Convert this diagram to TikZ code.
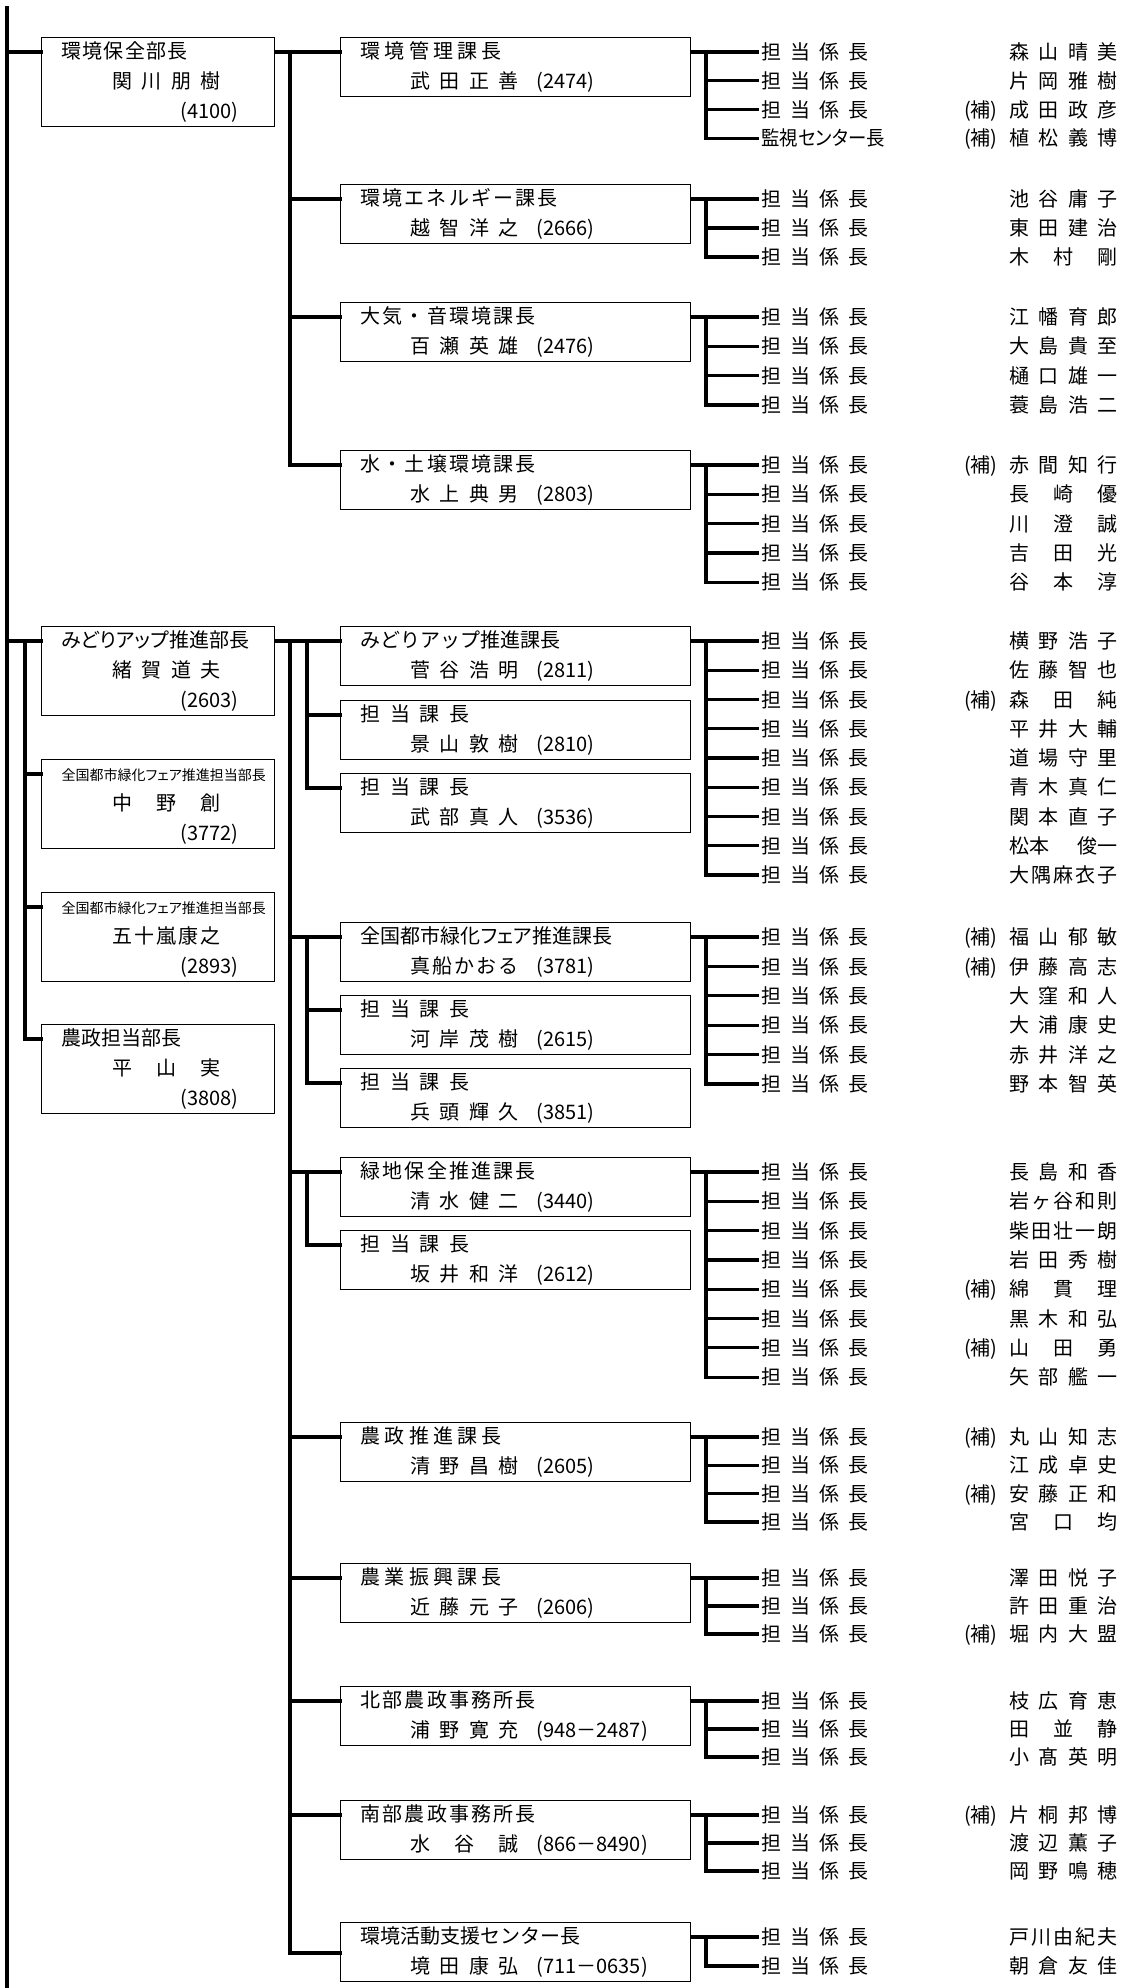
\documentclass[tikz,border=0pt]{standalone}
\usepackage{fontspec}
\setmainfont{Noto Sans CJK JP}
\usetikzlibrary{calc}

\makeatletter
\def\spread#1#2{\makebox[#1][s]{\expandafter\spread@i#2\relax}}
\def\spread@i#1{#1\@ifnextchar\relax{\@gobble}{\hfill\spread@i}}
\makeatother
\newcommand{\kakari}{\spread{53.5pt}{担当係長}}
\newcommand{\palt}[1]{{\addfontfeatures{RawFeature=+palt}#1}}
\newcommand{\hojo}{\ifnum\flag=1 (補)\hspace{6pt}\fi}

\tikzset{
  conn/.style={line width=1.6pt, line cap=rect},
  divbox/.style={draw, line width=0.6pt, anchor=north west, minimum width=116.5pt, minimum height=44.5pt,
    text width=96.5pt, inner xsep=10pt, inner ysep=0pt, align=left, font=\fontsize{10pt}{15pt}\selectfont},
  secbox/.style={divbox, minimum width=175pt, minimum height=29.5pt, text width=155pt},
  job/.style={anchor=west, inner xsep=2pt, inner ysep=0pt, text height=8.8pt, text depth=1.2pt, font=\fontsize{10pt}{12pt}\selectfont},
  who/.style={anchor=east, inner sep=0pt, text height=8.8pt, text depth=1.2pt, font=\fontsize{10pt}{12pt}\selectfont}
}

\begin{document}
\begin{tikzpicture}[x=0.5pt,y=-0.5pt]
  \useasboundingbox (0,0) rectangle (1131,1988);
  % ---- bar positions ----
  \coordinate (spine) at (7,8);
  \coordinate (foot) at (7,1988);
  \coordinate (sub) at (25,0);
  \coordinate (brA) at (290,0);
  \coordinate (brB) at (307,0);
  \coordinate (kbar) at (706,0);
  \coordinate (kin) at (757,0);
  \coordinate (kend) at (1118,0);

  % ---- 部長 ----
  \node[divbox] (d1) at (41,37) {\spread{63pt}{環境保全部長}\\\hspace*{25.5pt}\spread{54pt}{関川朋樹}\\\makebox[88.5pt][r]{(4100)}};
  \node[divbox] (d2) at (41,626) {\palt{みどりアップ推進部長}\\\hspace*{25.5pt}\spread{54pt}{緒賀道夫}\\\makebox[88.5pt][r]{(2603)}};
  \node[divbox] (d3) at (41,759) {\vphantom{国}{\fontsize{7pt}{15pt}\selectfont\palt{全国都市緑化フェア推進担当部長}}\\\hspace*{25.5pt}\spread{54pt}{中野創}\\\makebox[88.5pt][r]{(3772)}};
  \node[divbox] (d4) at (41,892) {\vphantom{国}{\fontsize{7pt}{15pt}\selectfont\palt{全国都市緑化フェア推進担当部長}}\\\hspace*{25.5pt}\spread{54pt}{五十嵐康之}\\\makebox[88.5pt][r]{(2893)}};
  \node[divbox] (d5) at (41,1024) {農政担当部長\\\hspace*{25.5pt}\spread{54pt}{平山実}\\\makebox[88.5pt][r]{(3808)}};
  \foreach \d in {d1,d2,d3,d4,d5}
    \coordinate (\d c) at ([yshift=-7.5pt]\d.north west);

  % ---- 課長 ----
  \node[secbox] (s1) at (340,37) {\spread{70.5pt}{環境管理課長}\\\hspace*{25pt}\spread{54pt}{武田正善}\hspace{9pt}(2474)};
  \node[secbox] (s2) at (340,184) {\spread{98.5pt}{環境エネルギー課長}\\\hspace*{25pt}\spread{54pt}{越智洋之}\hspace{9pt}(2666)};
  \node[secbox] (s3) at (340,302) {\spread{87.5pt}{大気・音環境課長}\\\hspace*{25pt}\spread{54pt}{百瀬英雄}\hspace{9pt}(2476)};
  \node[secbox] (s4) at (340,450) {\spread{87.5pt}{水・土壌環境課長}\\\hspace*{25pt}\spread{54pt}{水上典男}\hspace{9pt}(2803)};
  \node[secbox] (s5) at (340,626) {みどりアップ推進課長\\\hspace*{25pt}\spread{54pt}{菅谷浩明}\hspace{9pt}(2811)};
  \node[secbox] (s6) at (340,700) {\spread{54.5pt}{担当課長}\\\hspace*{25pt}\spread{54pt}{景山敦樹}\hspace{9pt}(2810)};
  \node[secbox] (s7) at (340,773) {\spread{54.5pt}{担当課長}\\\hspace*{25pt}\spread{54pt}{武部真人}\hspace{9pt}(3536)};
  \node[secbox] (s8) at (340,922) {\palt{全国都市緑化フェア推進課長}\\\hspace*{25pt}\spread{54pt}{真船かおる}\hspace{9pt}(3781)};
  \node[secbox] (s9) at (340,995) {\spread{54.5pt}{担当課長}\\\hspace*{25pt}\spread{54pt}{河岸茂樹}\hspace{9pt}(2615)};
  \node[secbox] (s10) at (340,1068) {\spread{54.5pt}{担当課長}\\\hspace*{25pt}\spread{54pt}{兵頭輝久}\hspace{9pt}(3851)};
  \node[secbox] (s11) at (340,1157) {\spread{87.5pt}{緑地保全推進課長}\\\hspace*{25pt}\spread{54pt}{清水健二}\hspace{9pt}(3440)};
  \node[secbox] (s12) at (340,1230) {\spread{54.5pt}{担当課長}\\\hspace*{25pt}\spread{54pt}{坂井和洋}\hspace{9pt}(2612)};
  \node[secbox] (s13) at (340,1422) {\spread{70.5pt}{農政推進課長}\\\hspace*{25pt}\spread{54pt}{清野昌樹}\hspace{9pt}(2605)};
  \node[secbox] (s14) at (340,1563) {\spread{70.5pt}{農業振興課長}\\\hspace*{25pt}\spread{54pt}{近藤元子}\hspace{9pt}(2606)};
  \node[secbox] (s15) at (340,1686) {\spread{87.5pt}{北部農政事務所長}\\\hspace*{25pt}\spread{54pt}{浦野寛充}\hspace{9pt}(948－2487)};
  \node[secbox] (s16) at (340,1800) {\spread{87.5pt}{南部農政事務所長}\\\hspace*{25pt}\spread{54pt}{水谷誠}\hspace{9pt}(866－8490)};
  \node[secbox] (s17) at (340,1922) {環境活動支援センター長\\\hspace*{25pt}\spread{54pt}{境田康弘}\hspace{9pt}(711－0635)};
  \foreach \s in {s1,s2,s3,s4,s5,s6,s7,s8,s9,s10,s11,s12,s13,s14,s15,s16,s17}
    \coordinate (\s c) at ([yshift=-7.5pt]\s.north west);
  \coordinate (s17l) at ([yshift=-15.5pt]s17.north west);

  % ---- left bars ----
  \draw[conn] (spine) -- (foot);
  \draw[conn] (spine |- d1c) -- (d1c);
  \draw[conn] (spine |- d2c) -- (d2c);
  \draw[conn] (sub |- d2c) -- (sub |- d5c) -- (d5c);
  \foreach \d in {d3,d4}{\draw[conn] (sub |- \d c) -- (\d c);}

  % ---- 部長 to 課長 ----
  \draw[conn] (d1.east |- d1c) -- (s1c);
  \draw[conn] (brA |- s1c) -- (brA |- s4c) -- (s4c);
  \foreach \s in {s2,s3}{\draw[conn] (brA |- \s c) -- (\s c);}
  \draw[conn] (d2.east |- d2c) -- (s5c);
  \draw[conn] (brA |- s5c) -- (brA |- s17l) -- (s17l);
  \foreach \s in {s8,s11,s13,s14,s15,s16}{\draw[conn] (brA |- \s c) -- (\s c);}
  \draw[conn] (brB |- s5c) -- (brB |- s7c) -- (s7c);
  \draw[conn] (brB |- s6c) -- (s6c);
  \draw[conn] (brB |- s8c) -- (brB |- s10c) -- (s10c);
  \draw[conn] (brB |- s9c) -- (s9c);
  \draw[conn] (brB |- s11c) -- (brB |- s12c) -- (s12c);

  % ---- 係長 lists ----
  \foreach \flag/\who [count=\i from 0] in {0/森山晴美, 0/片岡雅樹, 1/成田政彦}{
    \node[job] (k1r\i) at ($(kin |- s1c)+(0,\i*28.7)$) {\kakari};
    \node[who] (k1n\i) at (kend |- k1r\i) {\hojo\spread{54pt}{\who}};
    \draw[conn] (kbar |- k1r\i) -- (k1r\i.west);}
  \node[job] (k1r3) at ($(kin |- s1c)+(0,3*28.7)$) {\scalebox{0.92}[1]{\palt{監視センター長}}};
  \node[who] (k1n3) at (kend |- k1r3) {(補)\hspace{6pt}\spread{54pt}{植松義博}};
  \draw[conn] (s1.east |- s1c) -- (kbar |- k1r0) -- (kbar |- k1r3) -- (k1r3.west);

  \foreach \flag/\who [count=\i from 0] in {0/池谷庸子, 0/東田建治, 0/木村剛}{
    \node[job] (k2r\i) at ($(kin |- s2c)+(0,\i*29)$) {\kakari};
    \node[who] (k2n\i) at (kend |- k2r\i) {\hojo\spread{54pt}{\who}};
    \draw[conn] (kbar |- k2r\i) -- (k2r\i.west);}
  \draw[conn] (s2.east |- s2c) -- (kbar |- k2r0) -- (kbar |- k2r2);

  \foreach \flag/\who [count=\i from 0] in {0/江幡育郎, 0/大島貴至, 0/樋口雄一, 0/蓑島浩二}{
    \node[job] (k3r\i) at ($(kin |- s3c)+(0,\i*29.3)$) {\kakari};
    \node[who] (k3n\i) at (kend |- k3r\i) {\hojo\spread{54pt}{\who}};
    \draw[conn] (kbar |- k3r\i) -- (k3r\i.west);}
  \draw[conn] (s3.east |- s3c) -- (kbar |- k3r0) -- (kbar |- k3r3);

  \foreach \flag/\who [count=\i from 0] in {1/赤間知行, 0/長崎優, 0/川澄誠, 0/吉田光, 0/谷本淳}{
    \node[job] (k4r\i) at ($(kin |- s4c)+(0,\i*29.3)$) {\kakari};
    \node[who] (k4n\i) at (kend |- k4r\i) {\hojo\spread{54pt}{\who}};
    \draw[conn] (kbar |- k4r\i) -- (k4r\i.west);}
  \draw[conn] (s4.east |- s4c) -- (kbar |- k4r0) -- (kbar |- k4r4);

  \foreach \flag/\who [count=\i from 0] in {0/横野浩子, 0/佐藤智也, 1/森田純, 0/平井大輔, 0/道場守里, 0/青木真仁, 0/関本直子, 0/{松本}{俊一}, 0/大隅麻衣子}{
    \node[job] (k5r\i) at ($(kin |- s5c)+(0,\i*29.25)$) {\kakari};
    \node[who] (k5n\i) at (kend |- k5r\i) {\hojo\spread{54pt}{\who}};
    \draw[conn] (kbar |- k5r\i) -- (k5r\i.west);}
  \draw[conn] (s5.east |- s5c) -- (kbar |- k5r0) -- (kbar |- k5r8);

  \foreach \flag/\who [count=\i from 0] in {1/福山郁敏, 1/伊藤高志, 0/大窪和人, 0/大浦康史, 0/赤井洋之, 0/野本智英}{
    \node[job] (k8r\i) at ($(kin |- s8c)+(0,\i*29.4)$) {\kakari};
    \node[who] (k8n\i) at (kend |- k8r\i) {\hojo\spread{54pt}{\who}};
    \draw[conn] (kbar |- k8r\i) -- (k8r\i.west);}
  \draw[conn] (s8.east |- s8c) -- (kbar |- k8r0) -- (kbar |- k8r5);

  \foreach \flag/\who [count=\i from 0] in {0/長島和香, 0/岩ヶ谷和則, 0/柴田壮一朗, 0/岩田秀樹, 1/綿貫理, 0/黒木和弘, 1/山田勇, 0/矢部艦一}{
    \node[job] (k11r\i) at ($(kin |- s11c)+(0,\i*29.3)$) {\kakari};
    \node[who] (k11n\i) at (kend |- k11r\i) {\hojo\spread{54pt}{\who}};
    \draw[conn] (kbar |- k11r\i) -- (k11r\i.west);}
  \draw[conn] (s11.east |- s11c) -- (kbar |- k11r0) -- (kbar |- k11r7);

  \foreach \flag/\who [count=\i from 0] in {1/丸山知志, 0/江成卓史, 1/安藤正和, 0/宮口均}{
    \node[job] (k13r\i) at ($(kin |- s13c)+(0,\i*28.3)$) {\kakari};
    \node[who] (k13n\i) at (kend |- k13r\i) {\hojo\spread{54pt}{\who}};
    \draw[conn] (kbar |- k13r\i) -- (k13r\i.west);}
  \draw[conn] (s13.east |- s13c) -- (kbar |- k13r0) -- (kbar |- k13r3);

  \foreach \flag/\who [count=\i from 0] in {0/澤田悦子, 0/許田重治, 1/堀内大盟}{
    \node[job] (k14r\i) at ($(kin |- s14c)+(0,\i*28)$) {\kakari};
    \node[who] (k14n\i) at (kend |- k14r\i) {\hojo\spread{54pt}{\who}};
    \draw[conn] (kbar |- k14r\i) -- (k14r\i.west);}
  \draw[conn] (s14.east |- s14c) -- (kbar |- k14r0) -- (kbar |- k14r2);

  \foreach \flag/\who [count=\i from 0] in {0/枝広育恵, 0/田並静, 0/小髙英明}{
    \node[job] (k15r\i) at ($(kin |- s15c)+(0,\i*28)$) {\kakari};
    \node[who] (k15n\i) at (kend |- k15r\i) {\hojo\spread{54pt}{\who}};
    \draw[conn] (kbar |- k15r\i) -- (k15r\i.west);}
  \draw[conn] (s15.east |- s15c) -- (kbar |- k15r0) -- (kbar |- k15r2);

  \foreach \flag/\who [count=\i from 0] in {1/片桐邦博, 0/渡辺薫子, 0/岡野鳴穂}{
    \node[job] (k16r\i) at ($(kin |- s16c)+(0,\i*28)$) {\kakari};
    \node[who] (k16n\i) at (kend |- k16r\i) {\hojo\spread{54pt}{\who}};
    \draw[conn] (kbar |- k16r\i) -- (k16r\i.west);}
  \draw[conn] (s16.east |- s16c) -- (kbar |- k16r0) -- (kbar |- k16r2);

  \foreach \flag/\who [count=\i from 0] in {0/戸川由紀夫, 0/朝倉友佳}{
    \node[job] (k17r\i) at ($(kin |- s17c)+(0,\i*29)$) {\kakari};
    \node[who] (k17n\i) at (kend |- k17r\i) {\hojo\spread{54pt}{\who}};
    \draw[conn] (kbar |- k17r\i) -- (k17r\i.west);}
  \draw[conn] (s17.east |- s17c) -- (kbar |- k17r0) -- (kbar |- k17r1);
\end{tikzpicture}
\end{document}
